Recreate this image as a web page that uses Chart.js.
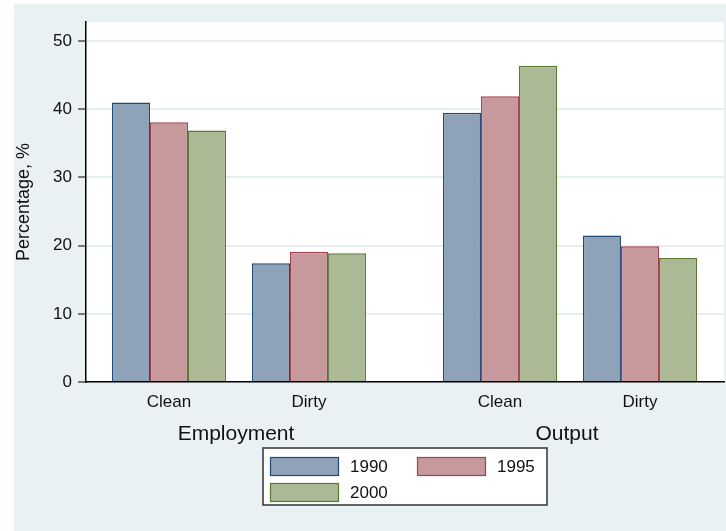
<!DOCTYPE html>
<html>
<head>
<meta charset="utf-8">
<script src="https://cdn.jsdelivr.net/npm/chart.js@4/dist/chart.umd.min.js"></script>
<style>
  html, body { margin: 0; padding: 0; background: #fff; }
</style>
</head>
<body>
<canvas id="chart" width="726" height="531"></canvas>
<script>
// data
const groups = ['Employment', 'Output'];
const sectors = ['Clean', 'Dirty'];
const years = ['1990', '1995', '2000'];
// order: Employment Clean, Employment Dirty, Output Clean, Output Dirty
const values1990 = [41.0, 17.4, 39.5, 21.5];
const values1995 = [38.1, 19.1, 41.9, 19.9];
const values2000 = [36.9, 18.9, 46.4, 18.2];
const yTicks = [0, 10, 20, 30, 40, 50];

const fills = ['#8EA3B8', '#C8999C', '#ABB994'];
const borders = ['#1F4A7A', '#A3404F', '#5A7A34'];
const bgColor = '#EAF1F3';
const FONT = '"Liberation Sans", Arial, sans-serif';

// slot on the x axis for each bar group; extra gap between Employment and Output
const groupGap = 0.364;
const slots = [];
groups.forEach((g, gi) => {
  sectors.forEach((s, si) => slots.push(gi * (sectors.length + groupGap) + si));
});

const series = [values1990, values1995, values2000];

Chart.defaults.font.family = FONT;
Chart.defaults.color = '#111';

const backgroundPlugin = {
  id: 'bg',
  beforeDraw(chart) {
    const { ctx, chartArea: a } = chart;
    ctx.save();
    ctx.fillStyle = '#fff';
    ctx.fillRect(0, 0, chart.width, chart.height);
    ctx.fillStyle = bgColor;
    ctx.fillRect(14, 4, chart.width - 14, chart.height - 4);
    ctx.fillStyle = '#fff';
    ctx.fillRect(a.left, a.top, a.right - a.left, a.bottom - a.top);
    ctx.restore();
  }
};

const groupLabelPlugin = {
  id: 'groupLabels',
  afterDraw(chart) {
    const { ctx, chartArea: a } = chart;
    const xs = chart.scales.x;
    ctx.save();
    ctx.fillStyle = '#111';
    ctx.font = '21px ' + FONT;
    ctx.textAlign = 'center';
    ctx.textBaseline = 'alphabetic';
    groups.forEach((g, gi) => {
      const first = slots[gi * sectors.length];
      const last = slots[gi * sectors.length + sectors.length - 1];
      const x = (xs.getPixelForValue(first) + xs.getPixelForValue(last)) / 2;
      ctx.fillText(g, x - 3, a.bottom + 58);
    });
    ctx.restore();
  }
};

const boxLegendPlugin = {
  id: 'boxLegend',
  afterDraw(chart) {
    const { ctx, chartArea: a } = chart;
    const w = 284, h = 57;
    const left = Math.round((a.left + a.right) / 2 - w / 2);
    const top = a.bottom + 66;
    ctx.save();
    ctx.fillStyle = '#fff';
    ctx.fillRect(left, top, w, h);
    ctx.strokeStyle = '#333';
    ctx.lineWidth = 1.5;
    ctx.strokeRect(left, top, w, h);
    ctx.font = '17px ' + FONT;
    ctx.textAlign = 'left';
    ctx.textBaseline = 'middle';
    chart.data.datasets.forEach((ds, i) => {
      const col = i % 2, row = Math.floor(i / 2);
      const sx = left + 7 + col * 147;
      const sy = top + 9 + row * 26;
      ctx.fillStyle = ds.backgroundColor;
      ctx.fillRect(sx, sy, 69, 19);
      ctx.strokeStyle = ds.borderColor;
      ctx.lineWidth = 1.2;
      ctx.strokeRect(sx + 0.5, sy + 0.5, 68, 18);
      ctx.fillStyle = '#111';
      ctx.fillText(ds.label, sx + 80, sy + 10);
    });
    ctx.restore();
  }
};

new Chart(document.getElementById('chart'), {
  type: 'bar',
  data: {
    datasets: years.map((yr, i) => ({
      label: yr,
      data: slots.map((x, k) => ({ x: x, y: series[i][k] })),
      backgroundColor: fills[i],
      borderColor: borders[i],
      borderWidth: 1.5,
      borderSkipped: 'start',
      categoryPercentage: 0.815,
      barPercentage: 1.0
    }))
  },
  options: {
    responsive: false,
    animation: false,
    layout: { padding: { top: 22, right: 2, left: 0, bottom: 0 } },
    plugins: {
      legend: { display: false },
      tooltip: { enabled: false }
    },
    scales: {
      x: {
        type: 'linear',
        offset: false,
        min: -0.593,
        max: 3.964,
        afterBuildTicks: s => { s.ticks = slots.map(v => ({ value: v })); },
        afterFit: s => { s.height = 149; },
        ticks: {
          autoSkip: false,
          maxRotation: 0,
          padding: 10,
          font: { size: 17 },
          color: '#111',
          callback: (v, i) => sectors[i % sectors.length]
        },
        grid: { display: false, drawTicks: false },
        border: { color: '#000', width: 1.5 }
      },
      y: {
        min: 0,
        max: 52.8,
        afterBuildTicks: s => { s.ticks = yTicks.map(v => ({ value: v })); },
        afterFit: s => { s.width = 86; },
        ticks: { padding: 6, font: { size: 17 }, color: '#111' },
        grid: {
          color: c => (c.tick && c.tick.value === 0) ? 'rgba(0,0,0,0)' : '#E6EEF1',
          lineWidth: 2,
          tickColor: '#000',
          tickWidth: 1,
          tickLength: 8
        },
        border: { color: '#000', width: 1.5 },
        title: {
          display: true,
          text: 'Percentage, %',
          font: { size: 18 },
          color: '#111',
          padding: { top: 13, bottom: 0 }
        }
      }
    }
  },
  plugins: [backgroundPlugin, groupLabelPlugin, boxLegendPlugin]
});
</script>
</body>
</html>
